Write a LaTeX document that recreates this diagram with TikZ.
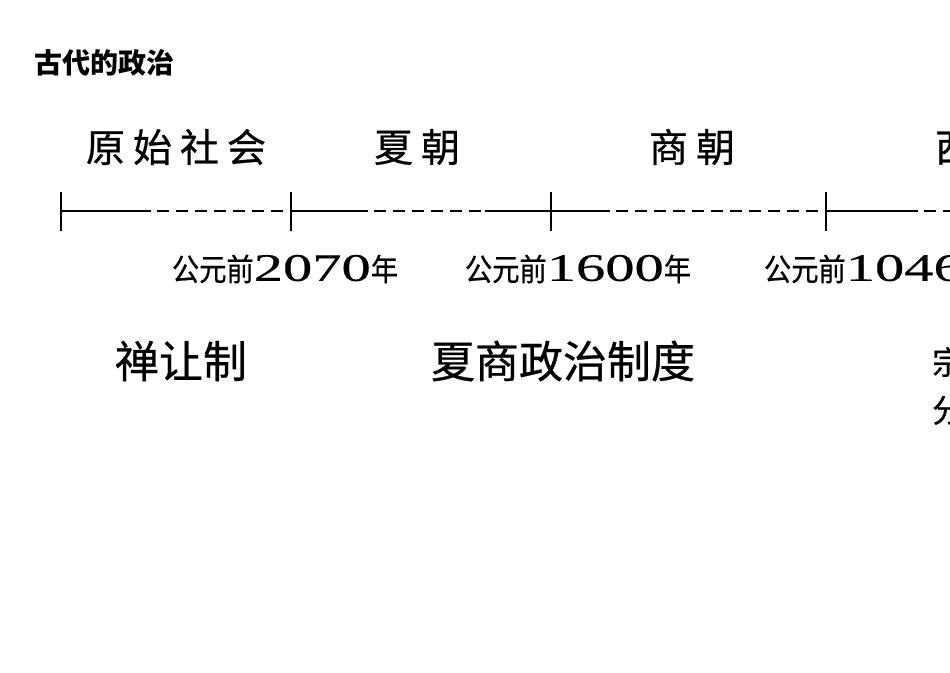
\documentclass[tikz,border=0pt]{standalone}
\usepackage{fontspec}
\setmainfont{Liberation Serif}
\newfontfamily\cjk[FakeBold=0.6]{Noto Sans CJK SC}
\newfontfamily\cjkb{Noto Sans CJK SC}
\newfontfamily\digitfont[FakeBold=0.4]{Liberation Serif}
\newcommand{\dg}[1]{\scalebox{1.5}[1]{\fontsize{39}{39}\digitfont #1}}
\newcommand{\dc}[1]{\scalebox{0.88}[1]{#1}}
\newcommand{\csp}{\hspace{8pt}}
\tikzset{
  title/.style={inner sep=0pt, font=\cjkb\bfseries\fontsize{28}{28}\selectfont},
  period/.style={inner sep=0pt, font=\cjk\fontsize{39}{39}\selectfont},
  date/.style={inner sep=0pt, font=\cjk\fontsize{31}{31}\selectfont},
  system/.style={inner sep=0pt, font=\cjk\fontsize{44}{44}\selectfont},
  sysright/.style={inner sep=0pt, anchor=west, font=\cjk\fontsize{32}{32}\selectfont},
  tline/.style={line width=2pt},
  dline/.style={line width=2pt, dash pattern=on 12pt off 7pt, dash phase=-6pt},
  tick/.style={line width=2.2pt}
}
\begin{document}
\begin{tikzpicture}[x=1pt,y=-1pt]
\useasboundingbox[fill=white] (0,0) rectangle (950,672);
\clip (0,0) rectangle (950,672);

% title
\node[title] (ttl) at (104,63) {古代的政治};

% periods
\node[period] (p1) at (176,147) {原\csp 始\csp 社\csp 会};
\node[period] (p2) at (417,147) {夏\csp 朝};
\node[period] (p3) at (692,147) {商\csp 朝};
\node[period] (p4) at (978,148) {西\csp 周};

% timeline coordinates
\coordinate (t1) at (61,211);
\coordinate (a1) at (151,211);
\coordinate (t2) at (291,211);
\coordinate (a2) at (368,211);
\coordinate (b2) at (485,211);
\coordinate (t3) at (551,211);
\coordinate (a3) at (610,211);
\coordinate (t4) at (826,211);
\coordinate (a4) at (918,211);
\coordinate (endr) at (960,211);

\draw[tline] (t1) -- (a1);
\draw[dline] (a1) -- (t2);
\draw[tline] (t2) -- (a2);
\draw[dline] (a2) -- (b2);
\draw[tline] (b2) -- (t3);
\draw[tline] (t3) -- (a3);
\draw[dline] (a3) -- (t4);
\draw[tline] (t4) -- (a4);
\draw[dline] (a4) -- (endr);

\foreach \t in {t1,t2,t3,t4}{
  \draw[tick] ([yshift=-20pt]\t) -- ([yshift=19pt]\t);
}

% dates
\node[date] (d1) at (285,269) {\dc{公元前}\dg{2070}\dc{年}};
\node[date] (d2) at (578,269) {\dc{公元前}\dg{1600}\dc{年}};
\node[date] (d3) at (877,269) {\dc{公元前}\dg{1046}\dc{年}};

% systems
\node[system] (s1) at (181,361) {禅让制};
\node[system] (s2) at (563,361) {夏商政治制度};
\node[sysright] (s3) at (932,362) {宗法制};
\node[sysright] (s4) at (932,410) {分封制};
\end{tikzpicture}
\end{document}
